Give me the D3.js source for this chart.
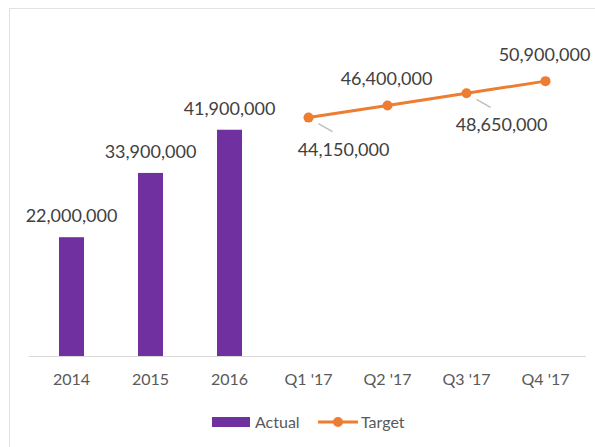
<!doctype html>
<html>
  <head>
    <script src="https://cdn.jsdelivr.net/npm/d3@7/dist/d3.min.js"></script>
    <style>
      body { margin: 0; background: #fff; }
      svg { font-family: Lato, "Open Sans", sans-serif; }
    </style>
  </head>
  <body>
    <svg width="595" height="447"></svg>
    <script>
      var categories = ["2014", "2015", "2016", "Q1 '17", "Q2 '17", "Q3 '17", "Q4 '17"];
      var actualCats = ["2014", "2015", "2016"];
      var actualValues = [22000000, 33900000, 41900000];
      var targetCats = ["Q1 '17", "Q2 '17", "Q3 '17", "Q4 '17"];
      var targetValues = [44150000, 46400000, 48650000, 50900000];
      // where the target labels sit: above or below-right with a leader line
      var targetLabelPos = ["below", "above", "below", "above"];

      var purple = "#7030A0", orange = "#ED7D31";
      var svg = d3.select("svg");
      var fmt = d3.format(",");

      // chart frame (only top and left edges show in the picture)
      svg.append("rect")
        .attr("x", 9.5).attr("y", 8.5)
        .attr("width", 620).attr("height", 480)
        .attr("fill", "none").attr("stroke", "#e3e3e3");

      var x = d3.scaleBand().domain(categories).range([32, 585]);
      var y = d3.scaleLinear().domain([0, 60000000]).range([356, 32]);
      var barW = 25;

      svg.append("line")
        .attr("x1", 29).attr("x2", 586)
        .attr("y1", y(0) + 0.5).attr("y2", y(0) + 0.5)
        .attr("stroke", "#d9d9d9");

      var xAxis = svg.append("g")
        .attr("transform", "translate(0," + y(0) + ")")
        .call(d3.axisBottom(x).tickSize(0).tickPadding(18));
      xAxis.select(".domain").remove();
      xAxis.selectAll("text")
        .attr("font-size", 16).attr("fill", "#595959")
        .attr("font-family", "Lato, sans-serif");

      var cx = c => x(c) + x.bandwidth() / 2;

      // bars
      svg.selectAll(".bar").data(actualValues).enter()
        .append("rect")
          .attr("class", "bar")
          .attr("x", (d, i) => cx(actualCats[i]) - barW / 2)
          .attr("width", barW)
          .attr("y", d => y(d))
          .attr("height", d => y(0) - y(d))
          .attr("fill", purple);

      svg.selectAll(".barlabel").data(actualValues).enter()
        .append("text")
          .attr("x", (d, i) => cx(actualCats[i]))
          .attr("y", d => y(d) - 15)
          .attr("text-anchor", "middle")
          .attr("font-size", 18).attr("fill", "#404040")
          .text(d => fmt(d));

      // target line
      var line = d3.line()
        .x((d, i) => cx(targetCats[i]))
        .y(d => y(d));
      svg.append("path")
        .datum(targetValues)
        .attr("d", line)
        .attr("fill", "none")
        .attr("stroke", orange).attr("stroke-width", 3);

      svg.selectAll(".pt").data(targetValues).enter()
        .append("circle")
          .attr("cx", (d, i) => cx(targetCats[i]))
          .attr("cy", d => y(d))
          .attr("r", 5)
          .attr("fill", orange);

      // leader lines for labels placed below
      svg.selectAll(".leader").data(targetValues).enter()
        .filter((d, i) => targetLabelPos[i] == "below")
        .append("line")
          .attr("x1", function(d) { var i = targetValues.indexOf(d); return cx(targetCats[i]) + 10; })
          .attr("y1", d => y(d) + 6)
          .attr("x2", function(d) { var i = targetValues.indexOf(d); return cx(targetCats[i]) + 24; })
          .attr("y2", d => y(d) + 14)
          .attr("stroke", "#bfbfbf").attr("stroke-width", 1.5);

      svg.selectAll(".tlabel").data(targetValues).enter()
        .append("text")
          .attr("x", (d, i) => cx(targetCats[i]) + (targetLabelPos[i] == "below" ? 35 : -1))
          .attr("y", (d, i) => y(d) + (targetLabelPos[i] == "below" ? 38 : -20))
          .attr("text-anchor", "middle")
          .attr("font-size", 18).attr("fill", "#404040")
          .text(d => fmt(d));

      // legend
      var lg = svg.append("g").attr("transform", "translate(0,422)");
      lg.append("rect").attr("x", 212).attr("y", -5).attr("width", 38).attr("height", 10).attr("fill", purple);
      lg.append("text").attr("x", 255).attr("y", 6).attr("font-size", 16).attr("fill", "#595959").text("Actual");
      lg.append("line").attr("x1", 318).attr("x2", 358).attr("y1", 0).attr("y2", 0)
        .attr("stroke", orange).attr("stroke-width", 3);
      lg.append("circle").attr("cx", 338).attr("cy", 0).attr("r", 5).attr("fill", orange);
      lg.append("text").attr("x", 361).attr("y", 6).attr("font-size", 16).attr("fill", "#595959").text("Target");
    </script>
  </body>
</html>
